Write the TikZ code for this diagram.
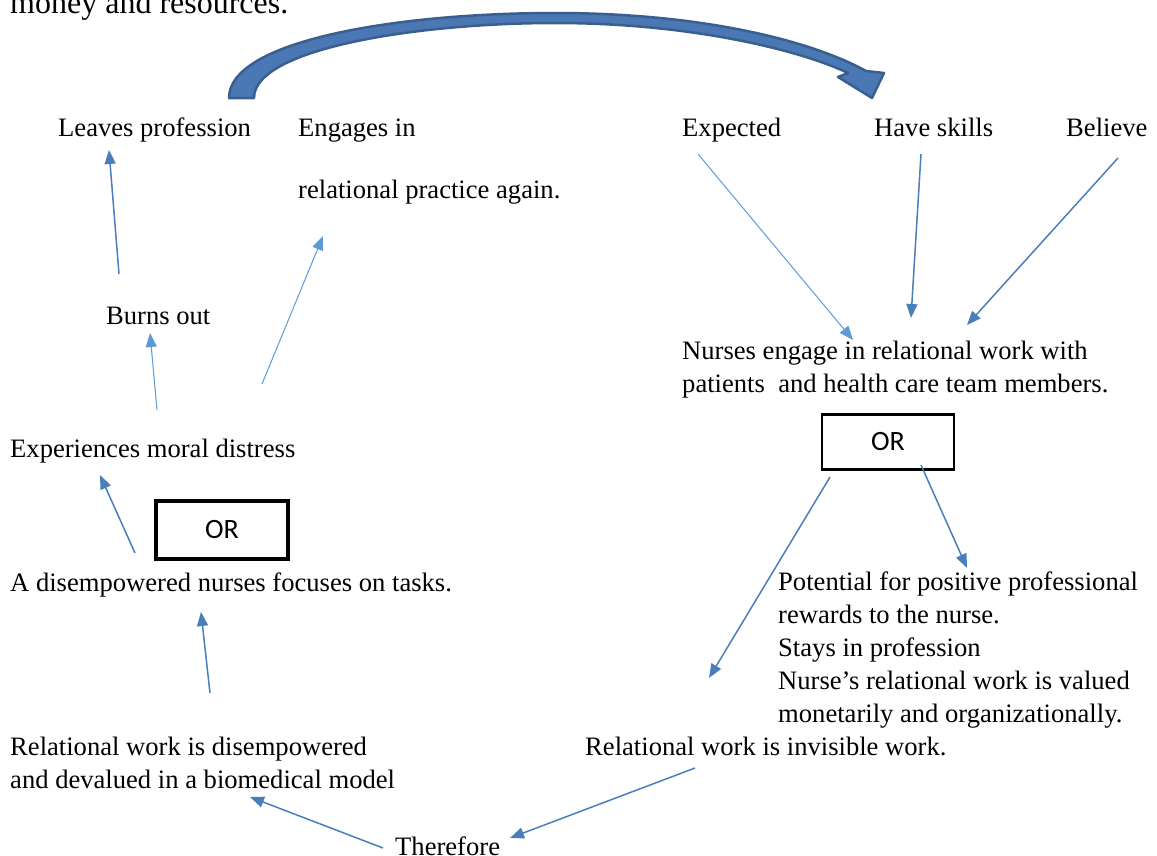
\documentclass[tikz,border=0pt]{standalone}
\usepackage{fontspec}
\setmainfont{Liberation Serif}
\newfontfamily\orfont{Carlito}
\usetikzlibrary{arrows.meta}
\definecolor{arrdark}{HTML}{4A7EBB}
\definecolor{arrlight}{HTML}{5B9BD5}
\definecolor{bigfill}{HTML}{4A78B4}
\definecolor{bigdraw}{HTML}{3A5F8E}
\tikzset{
  txt/.style={inner sep=0pt, anchor=base west, align=left, font=\fontsize{26.6}{33}\selectfont},
  orbox/.style={draw=black, minimum width=#1, inner sep=0pt, font=\orfont\fontsize{28}{32}\selectfont},
  linkdark/.style={draw=arrdark, line width=1.5pt, -{Triangle[length=14pt,width=11pt]}},
  linklight/.style={draw=arrlight, line width=1pt, -{Triangle[length=14pt,width=11pt]}},
}
\begin{document}
\begin{tikzpicture}[x=1pt,y=-1pt]
\useasboundingbox (0,0) rectangle (1157,855);
% top text (cut off)
\node[txt, font=\fontsize{32}{38}\selectfont] (money) at (10,13) {money and resources.};
% big curved arrow
\filldraw[fill=bigfill, draw=bigdraw, line width=2.5pt, line join=round]
  (229,98) .. controls (229,40) and (400,13) .. (555,13)
  .. controls (700,13) and (810,40) .. (866,71)
  -- (884,73) -- (872,98) -- (838,77) -- (848,73)
  .. controls (800,50) and (690,23) .. (555,23)
  .. controls (420,23) and (254,48) .. (254,98) -- cycle;
% nodes (multi-line nodes: base = last line)
\node[txt] (leave) at (58,136) {Leaves profession};
\node[txt] (engage) at (298,136) {Engages in};
\node[txt] (engage2) at (298,198) {relational practice again.};
\node[txt] (expected) at (682,136) {Expected};
\node[txt] (skills) at (874,136) {Have skills};
\node[txt] (believe) at (1066,136) {Believe};
\node[txt] (burns) at (106,324) {Burns out};
\node[txt] (nurses) at (682,392) {Nurses engage in relational work with\\patients\ \ and health care team members.};
\node[orbox=132pt, minimum height=55pt, line width=2.5pt] (orright) at (888,442) {OR};
\node[txt] (moral) at (10,457) {Experiences moral distress};
\node[orbox=132pt, minimum height=58pt, line width=4.5pt] (orleft) at (222,530) {OR};
\node[txt] (tasks) at (10,591) {A disempowered nurses focuses on tasks.};
\node[txt] (reward) at (778,722) {Potential for positive professional\\rewards to the nurse.\\Stays in profession\\Nurse’s relational work is valued\\monetarily and organizationally.};
\node[txt] (invisible) at (585,755) {Relational work is invisible work.};
\node[txt] (devalued) at (10,788) {Relational work is disempowered\\and devalued in a biomedical model};
\node[txt] (therefore) at (395,855) {Therefore};
% connector end points
\coordinate (c1s) at (119,274); \coordinate (c1e) at (109,150);
\coordinate (c2s) at (157,410); \coordinate (c2e) at (150,333);
\coordinate (c3s) at (262,384); \coordinate (c3e) at (323,236);
\coordinate (c4s) at (135,553); \coordinate (c4e) at (100,475);
\coordinate (c5s) at (210,693); \coordinate (c5e) at (201,612);
\coordinate (c6s) at (698,154); \coordinate (c6e) at (853,340);
\coordinate (c7s) at (921,154); \coordinate (c7e) at (911,318);
\coordinate (c8s) at (1118,158); \coordinate (c8e) at (967,325);
\coordinate (c9s) at (830,477); \coordinate (c9e) at (709,678);
\coordinate (c10s) at (921,465); \coordinate (c10e) at (967,568);
\coordinate (c11s) at (695,768); \coordinate (c11e) at (510,838);
\coordinate (c12s) at (383,848); \coordinate (c12e) at (250,797);
% connectors
\draw[linkdark] (c1s) -- (c1e);
\draw[linklight] (c2s) -- (c2e);
\draw[linklight] (c3s) -- (c3e);
\draw[linkdark] (c4s) -- (c4e);
\draw[linkdark] (c5s) -- (c5e);
\draw[linklight] (c6s) -- (c6e);
\draw[linkdark] (c7s) -- (c7e);
\draw[linkdark] (c8s) -- (c8e);
\draw[linkdark] (c9s) -- (c9e);
\draw[linkdark] (c10s) -- (c10e);
\draw[linkdark] (c11s) -- (c11e);
\draw[linkdark] (c12s) -- (c12e);
\end{tikzpicture}
\end{document}
